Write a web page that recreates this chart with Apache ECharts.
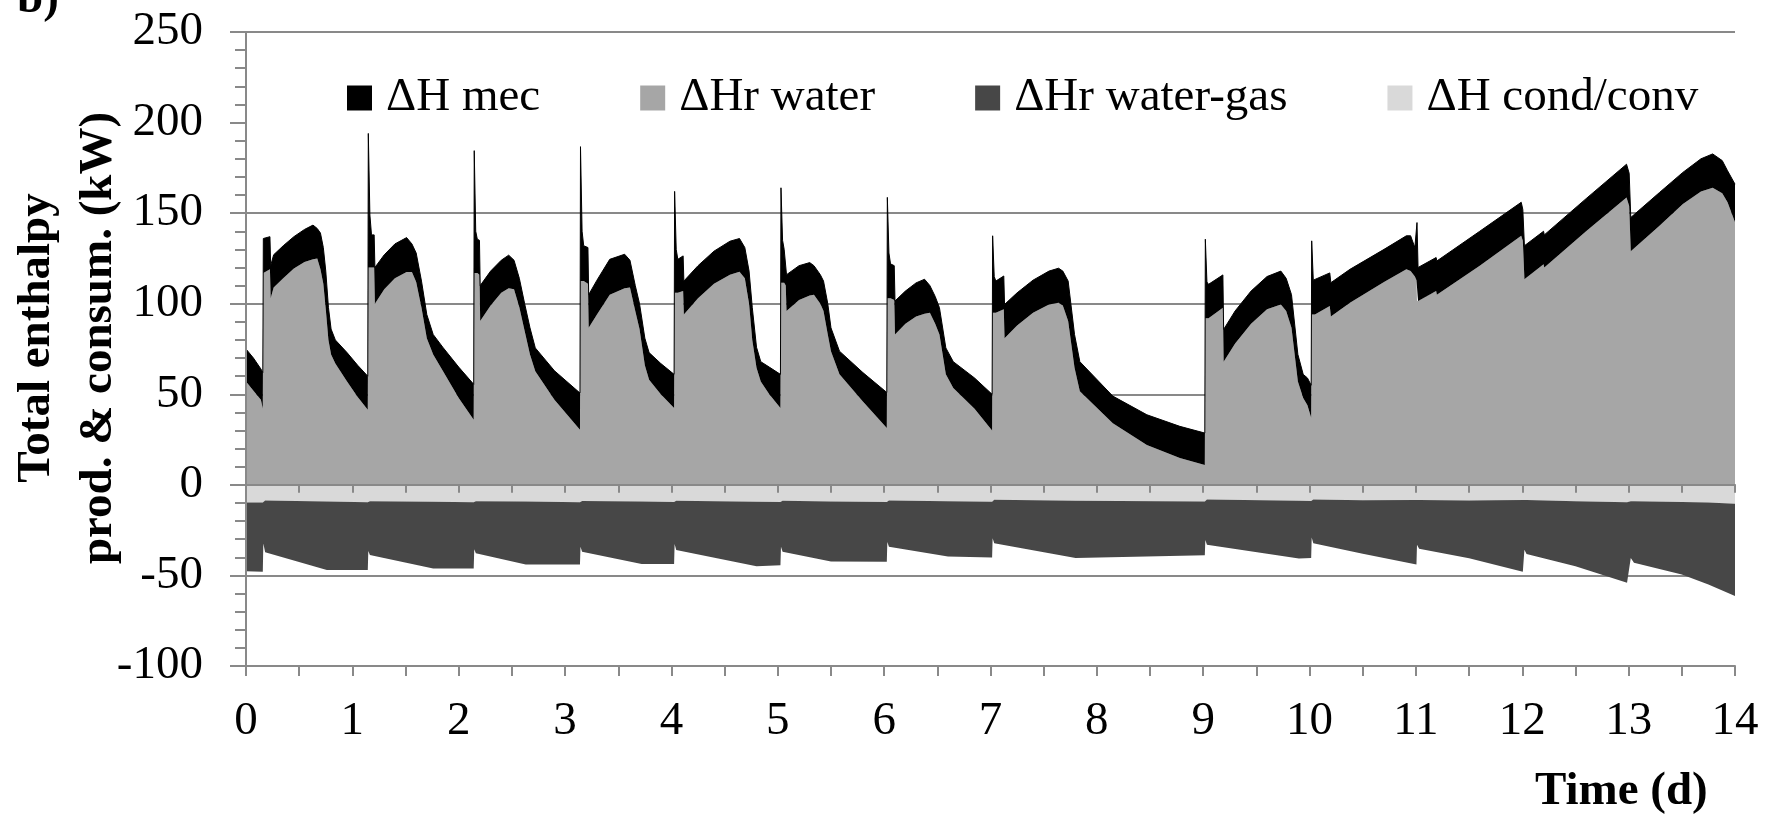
<!DOCTYPE html>
<html>
<head>
<meta charset="utf-8">
<script src="https://cdn.jsdelivr.net/npm/echarts@6/dist/echarts.min.js"></script>
<style>
  html, body { margin: 0; padding: 0; background: #fff; }
  #chart { width: 1769px; height: 821px; }
</style>
</head>
<body>
<div id="chart"></div>
<script>
// Stacked enthalpy balance over 14 days. Positive side: reaction water (grey)
// with the mechanical term (black) on top. Negative side: cond/conv (light)
// then water-gas (dark).

// positive stack, sampled on its own time grid (days)
const posDays = [
  0.000, 0.070, 0.140, 0.158,
  0.163, 0.225, 0.232, 0.260, 0.350, 0.450, 0.550, 0.630, 0.670, 0.700, 0.727, 0.750, 0.775, 0.800, 0.840, 0.950, 1.050, 1.145,
  1.150, 1.165, 1.180, 1.205, 1.212, 1.300, 1.400, 1.510, 1.560, 1.600, 1.650, 1.700, 1.760, 1.850, 2.000, 2.141,
  2.146, 2.160, 2.175, 2.195, 2.202, 2.300, 2.400, 2.470, 2.520, 2.570, 2.620, 2.670, 2.720, 2.900, 3.140,
  3.145, 3.160, 3.175, 3.215, 3.222, 3.300, 3.420, 3.560, 3.610, 3.660, 3.700, 3.750, 3.790, 3.900, 4.025,
  4.030, 4.045, 4.060, 4.110, 4.117, 4.250, 4.400, 4.550, 4.640, 4.690, 4.730, 4.760, 4.800, 4.840, 4.920, 5.025,
  5.030, 5.045, 5.060, 5.075, 5.082, 5.200, 5.300, 5.340, 5.400, 5.430, 5.470, 5.500, 5.580, 5.800, 6.025,
  6.030, 6.045, 6.060, 6.095, 6.102, 6.200, 6.300, 6.380, 6.430, 6.480, 6.520, 6.580, 6.650, 6.850, 7.015,
  7.020, 7.035, 7.050, 7.125, 7.132, 7.250, 7.400, 7.550, 7.640, 7.680, 7.730, 7.790, 7.840, 8.150, 8.470, 8.780, 9.015,
  9.020, 9.035, 9.050, 9.185, 9.192, 9.300, 9.450, 9.600, 9.730, 9.780, 9.830, 9.890, 9.940, 9.980, 10.015,
  10.020, 10.035, 10.050, 10.190, 10.200, 10.380, 10.700, 10.910, 10.950, 10.990, 11.005,
  11.010, 11.020, 11.190, 11.197, 11.600, 11.990, 12.005,
  12.020, 12.200, 12.207, 12.600, 12.980, 13.005,
  13.020, 13.290, 13.510, 13.680, 13.790, 13.880, 13.930, 14.000
];
const water = [
  57, 52, 47, 42,
  117, 119, 103, 109, 114, 119.5, 123, 124.5, 125, 119, 111, 97, 80, 72, 67, 57, 48.5, 41.5,
  120, 120, 120, 120, 100, 108, 114, 117.5, 117.5, 112, 97.8, 81, 72, 63, 48, 36,
  117, 117, 117, 116, 90.4, 99, 106, 108.5, 108, 98, 85, 72, 62.7, 47, 30.4,
  112.5, 112.5, 112.5, 111, 86.7, 94, 105, 108.5, 108.9, 96, 86, 66, 58, 50, 42.4,
  106, 106, 106, 107, 94, 103, 111, 116, 117.7, 114, 100, 80, 64.6, 57, 50, 42.4,
  111.6, 111.6, 111.6, 110, 96, 102, 104.5, 105, 100, 96, 83, 73.8, 61, 46, 31.4,
  103, 103, 103, 102, 83, 89, 93, 94.5, 95, 89, 83, 61, 53.5, 42, 30,
  95, 95, 95, 96.9, 81, 88, 95, 99.5, 100.5, 99, 90.4, 64.6, 51.7, 34, 22, 14.8, 11,
  92, 92, 92, 97.8, 68, 78, 89, 97, 99.6, 96, 86.7, 57, 48, 44, 37,
  94, 94, 94, 98.7, 93, 100.5, 112, 119, 118, 115, 113,
  101.5, 101.5, 107, 105, 121, 137.5, 134.7,
  113.5, 121.8, 120, 140, 158.7, 154,
  129, 143, 155, 162, 164, 161, 156, 145
];
const mec = [
  18, 18, 17, 20,
  19, 18, 18, 18, 18, 17.5, 18, 18.9, 16.5, 20, 20, 21, 18, 14, 13, 16, 17.5, 18.5,
  74, 29, 18, 18, 20, 19, 19, 19, 15.5, 16, 14.7, 13, 11, 13, 17, 19.5,
  67.5, 23, 18.6, 19, 19.6, 19, 18, 18.3, 16, 16, 15, 14.7, 12.9, 16, 20.3,
  74.2, 27.5, 19.5, 20, 18.3, 19, 19.5, 18.8, 15.1, 14, 14, 15, 15, 17, 18.6,
  56, 24, 18.5, 19.4, 18.5, 18, 18, 18.5, 18.3, 17, 18, 18, 11.4, 11, 15, 18.6,
  52.4, 23.4, 18.4, 19, 20, 19, 18.2, 16, 16, 16.5, 17, 12.9, 12.8, 16, 19.6,
  55.7, 25, 19, 19, 18.5, 18, 18.5, 19, 15, 15, 14.8, 14.6, 14.5, 17, 20,
  42.5, 20, 17.5, 18.4, 18.6, 18, 18, 18.5, 19.1, 19, 22.1, 18.4, 16.3, 15, 16.7, 17.5, 17.6,
  43.6, 20, 18.7, 18.1, 17.8, 18, 18, 18, 18.4, 18, 18.3, 15, 13, 15, 18,
  40.7, 19, 18.5, 18.3, 18.6, 18.5, 18, 18.5, 19.5, 16, 17,
  43.3, 18.5, 18.5, 18.6, 19, 18.5, 17.3,
  18.5, 18.2, 18, 18, 18.3, 18,
  18.6, 18.4, 17.5, 18, 18.7, 18, 17.4, 21
];

// negative stack, own time grid (days)
const negDays = [
  0.000, 0.158, 0.163, 0.180, 0.760, 1.145,
  1.150, 1.165, 1.760, 2.141,
  2.146, 2.161, 2.630, 3.140,
  3.145, 3.160, 3.720, 4.025,
  4.030, 4.045, 4.800, 5.025,
  5.030, 5.045, 5.500, 6.025,
  6.030, 6.045, 6.600, 7.015,
  7.020, 7.035, 7.800, 9.015,
  9.020, 9.035, 9.900, 10.015,
  10.020, 10.035, 10.500, 11.005,
  11.010, 11.030, 11.500, 12.005,
  12.020, 12.040, 12.500, 12.985,
  13.020, 13.050, 13.500, 13.750, 14.000
];
const condConv = [
  -9.7, -9.7, -8.6, -8.6, -9.2, -9.6,
  -9.0, -9.0, -9.3, -9.6,
  -9.0, -9.0, -9.2, -9.6,
  -8.9, -8.9, -9.2, -9.5,
  -8.8, -8.8, -9.3, -9.5,
  -8.8, -8.8, -9.2, -9.5,
  -8.6, -8.6, -9.1, -9.3,
  -8.2, -8.2, -8.8, -9.2,
  -8.1, -8.1, -8.8, -8.9,
  -8.1, -8.1, -8.5, -9.0,
  -8.3, -8.3, -8.7, -9.2,
  -8.4, -8.4, -9.0, -9.6,
  -9.0, -9.0, -9.5, -9.8, -10.4
];
const waterGas = [
  -38.0, -38.3, -23.8, -28.6, -37.8, -37.4,
  -27.5, -29.7, -36.9, -36.6,
  -26.6, -28.8, -34.8, -34.4,
  -25.3, -28.0, -34.5, -34.2,
  -23.9, -27.2, -35.7, -34.9,
  -25.4, -28.1, -33.1, -32.9,
  -22.9, -25.6, -30.4, -30.8,
  -21.3, -24.0, -31.6, -29.7,
  -22.3, -24.9, -31.9, -31.5,
  -20.9, -24.1, -29.5, -35.0,
  -24.7, -27.0, -31.8, -38.8,
  -27.4, -29.8, -36.0, -44.4,
  -31.4, -34.0, -40.0, -45.2, -50.9
];

const yTicks = [-100, -50, 0, 50, 100, 150, 200, 250];

const SERIF = '"Liberation Serif", "Times New Roman", serif';
const GREY = '#898989';
const axisLine = { lineStyle: { color: GREY, width: 2 } };

// value first, day second: ECharts stacks the first numeric column,
// so the value has to come before the day for a value-type x axis.
const pair = (xs, ys) => xs.map((x, i) => [ys[i], x]);

const area = (name, stack, color, xs, ys, lineWidth) => ({
  name,
  type: 'line',
  stack,
  data: pair(xs, ys),
  encode: { x: 1, y: 0 },
  color,
  itemStyle: { color },
  symbol: 'none',
  showSymbol: false,
  lineStyle: { width: lineWidth, color },
  areaStyle: { color, opacity: 1 },
  emphasis: { disabled: true },
  silent: true,
});

// the 200 gridline sits behind the legend box in the original, so it is blank
const splitColors = yTicks.map((v) => (v === 200 ? 'rgba(0,0,0,0)' : GREY));

const chart = echarts.init(document.getElementById('chart'));
chart.setOption({
  animation: false,
  backgroundColor: '#fff',
  grid: { left: 246, right: 34, top: 32, bottom: 155 },
  legend: {
    data: ['ΔH mec', 'ΔHr water', 'ΔHr water-gas', 'ΔH cond/conv'],
    left: 347,
    top: 73,
    padding: 0,
    icon: 'rect',
    itemWidth: 25,
    itemHeight: 25,
    itemGap: 100,
    selectedMode: false,
    itemStyle: { borderWidth: 0 },
    textStyle: { fontFamily: SERIF, fontSize: 47, lineHeight: 50, color: '#000', padding: [0, 0, 0, 9] },
  },
  xAxis: [
    {
      type: 'value', min: 0, max: 14, interval: 1, position: 'bottom',
      axisLine: { onZero: false, ...axisLine },
      axisTick: { length: 10, ...axisLine },
      minorTick: { show: true, splitNumber: 2, length: 10, ...axisLine },
      axisLabel: { fontFamily: SERIF, fontSize: 47, color: '#000', margin: 32 },
      splitLine: { show: false },
    },
    {
      // tick line on y = 0, drawn over the areas
      type: 'value', min: 0, max: 14, interval: 1, position: 'bottom', z: 5,
      axisLine: { onZero: true, onZeroAxisIndex: 0, ...axisLine },
      axisTick: { length: 8, ...axisLine },
      minorTick: { show: true, splitNumber: 2, length: 8, ...axisLine },
      axisLabel: { show: false },
      splitLine: { show: false },
    },
  ],
  yAxis: [
    {
      // gridlines only, kept behind the series
      type: 'value', min: -100, max: 250, interval: 50, position: 'left',
      axisLine: { show: false },
      axisTick: { show: false },
      axisLabel: { show: false },
      splitLine: { show: true, lineStyle: { color: splitColors, width: 2 } },
    },
    {
      type: 'value', min: -100, max: 250, interval: 50, position: 'left', z: 5,
      axisLine: { show: true, ...axisLine },
      axisTick: { show: true, length: 16, ...axisLine },
      minorTick: { show: true, splitNumber: 5, length: 11, ...axisLine },
      axisLabel: { fontFamily: SERIF, fontSize: 47, color: '#000', margin: 43 },
      splitLine: { show: false },
    },
  ],
  series: [
    area('ΔHr water', 'pos', '#a6a6a6', posDays, water, 0),
    area('ΔH mec', 'pos', '#000000', posDays, mec, 1),
    area('ΔH cond/conv', 'neg', '#d9d9d9', negDays, condConv, 0),
    area('ΔHr water-gas', 'neg', '#474747', negDays, waterGas, 0),
  ],
  graphic: [
    {
      type: 'text', x: 68, y: 338, rotation: Math.PI / 2,
      style: {
        text: 'Total enthalpy\nprod. & consum. (kW)',
        fontFamily: SERIF, fontSize: 47, fontWeight: 'bold', lineHeight: 62,
        fill: '#000', align: 'center', verticalAlign: 'middle',
      },
    },
    {
      type: 'text', x: 1535, y: 792,
      style: {
        text: 'Time (d)', fontFamily: SERIF, fontSize: 47, fontWeight: 'bold',
        fill: '#000', align: 'left', verticalAlign: 'middle',
      },
    },
    {
      type: 'text', x: 17, y: 0,
      style: {
        text: 'b)', fontFamily: SERIF, fontSize: 47, fontWeight: 'bold',
        fill: '#000', align: 'left', verticalAlign: 'middle',
      },
    },
  ],
});
</script>
</body>
</html>
